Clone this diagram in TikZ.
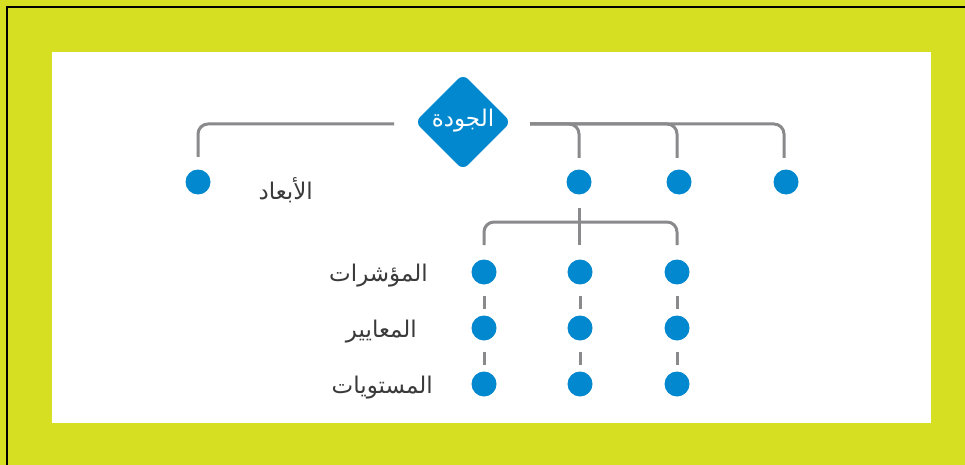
\documentclass[tikz,border=0pt]{standalone}
\usepackage{fontspec}
\TeXXeTstate=1
\newfontfamily\arabicfont[Script=Arabic]{DejaVu Sans}
\usetikzlibrary{shapes.geometric}
\definecolor{ylw}{HTML}{D7DF23}
\definecolor{blu}{HTML}{0288CF}
\definecolor{gry}{HTML}{8A8A8C}
\definecolor{txt}{HTML}{3A3A3A}
\begin{document}
\begin{tikzpicture}[x=1pt,y=-1pt,
  conn/.style={draw=gry,line width=3pt,rounded corners=10pt},
  dashseg/.style={draw=gry,line width=3pt},
  dot/.style={circle,fill=blu,minimum size=25pt,inner sep=0pt},
  lbl/.style={anchor=east,text=txt,font=\arabicfont\fontsize{23}{26}\selectfont,inner sep=0pt}]
\fill[ylw] (0,0) rectangle (965,465);
\useasboundingbox (0,0) rectangle (965,465);
\draw[black,line width=2pt] (7,466) -- (7,7) -- (966,7);
\fill[white] (52,52) rectangle (931,423);
% root
\node[diamond,fill=blu,rounded corners=7pt,minimum width=96pt,minimum height=96pt,inner sep=0pt] (root) at (463,122) {};
\node[text=white,font=\arabicfont\fontsize{23}{26}\selectfont] (rootlbl) at (463,121) {\beginR الجودة\endR};
\coordinate (lstart) at (394,124);
\coordinate (rstart) at (530,124);
% top dots
\node[dot] (d1) at (198,182) {};
\node[dot] (d2) at (579,182) {};
\node[dot] (d3) at (679,182) {};
\node[dot] (d4) at (786,182) {};
\node[lbl] (ab) at (313,190) {\beginR الأبعاد\endR};
\coordinate (e1) at (198,157);
\coordinate (e2) at (579,158);
\coordinate (e3) at (677,158);
\coordinate (e4) at (784,158);
\draw[conn] (lstart) -- (e1 |- lstart) -- (e1);
\draw[conn] (rstart) -- (e2 |- rstart) -- (e2);
\draw[conn] (rstart) -- (e3 |- rstart) -- (e3);
\draw[conn] (rstart) -- (e4 |- rstart) -- (e4);
% lower grid
\foreach \c/\x in {a/484,b/580,c/677}{
  \node[dot] (\c1) at (\x,272) {};
  \node[dot] (\c2) at (\x,328) {};
  \node[dot] (\c3) at (\x,384) {};
  \draw[dashseg] (\x,296) -- (\x,309);
  \draw[dashseg] (\x,352) -- (\x,365);
}
\coordinate (s1) at (579,208);
\coordinate (s2) at (579,245);
\coordinate (bl) at (484,245);
\coordinate (br) at (677,245);
\draw[conn] (bl) -- (484,222) -- (677,222) -- (br);
\draw[dashseg] (s1) -- (s2);
\node[lbl] (l1) at (428,276) {\beginR المؤشرات\endR};
\node[lbl] (l2) at (417,332) {\beginR المعايير\endR};
\node[lbl] (l3) at (433,388) {\beginR المستويات\endR};
\end{tikzpicture}
\end{document}
